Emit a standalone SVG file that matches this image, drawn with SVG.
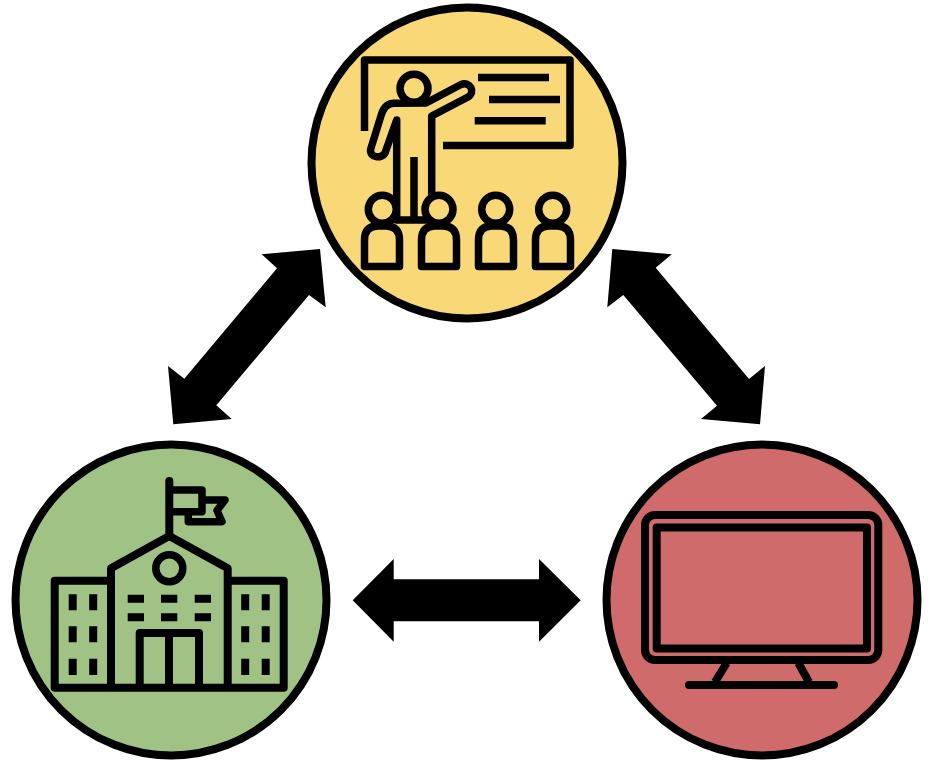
<svg xmlns="http://www.w3.org/2000/svg" width="932" height="760" viewBox="0 0 932 760">
<style>
.c{stroke:#000;stroke-width:8}
.i{fill:none;stroke:#000;stroke-width:7.500;stroke-linejoin:round;stroke-linecap:butt}
.r{stroke-linecap:round}
.m{stroke-width:8}
.y{fill:#f9d878}
.f{fill:#000}
</style>
<rect width="932" height="760" fill="#fff"/>
<g id="connectors" class="f">
<polygon points="320,249 261.700,254.300 277,268.300 184.300,378.700 168,366 173.300,424.300 231.700,419 216.300,405.300 309,295 325.700,307.300"/>
<polygon points="612.300,249 671.700,254.300 655.700,267.700 749,379 765,366 760,424.300 701,419 717,405.700 623.300,295 607.300,307.300"/>
<polygon points="352.700,600.300 393.700,559 393.700,579.300 539,579.300 539,559 580.700,600.300 539,641.700 539,621.300 393.700,621.300 393.700,641.700"/>
</g>
<g id="node-teacher">
<circle class="c" cx="467" cy="163" r="155.500" fill="#f9d878"/>
<path class="i" d="M364.500 131V60H570V145.500H443"/>
<path class="i" d="M478 77.500H549M489 99.500H560M474.700 120.700H545.700"/>
<circle class="i" cx="414" cy="88.300" r="14"/>
<path class="i" d="M426 103L461 84.500C470 81 476 92 468 97L431.700 116V220H396.700V120L385 153C382 159 369 158 370.700 149L381.700 113.500C384 107 388 103.300 394 103.300Z"/>
<path class="i" d="M414 157V220"/>
<circle class="i y" cx="382.300" cy="209.300" r="14"/>
<circle class="i y" cx="439" cy="209.300" r="14"/>
<circle class="i y" cx="495.700" cy="209.300" r="14"/>
<circle class="i y" cx="552.700" cy="209.300" r="14"/>
<path class="i y" d="M364.500 266.500V240Q364.500 226 378 226H386Q399.500 226 399.500 240V266.500Z"/>
<path class="i y" d="M421.500 266.500V240Q421.500 226 435 226H443Q456.500 226 456.500 240V266.500Z"/>
<path class="i y" d="M478.500 266.500V240Q478.500 226 492 226H500Q513.500 226 513.500 240V266.500Z"/>
<path class="i y" d="M535.500 266.500V240Q535.500 226 549 226H557Q570.500 226 570.500 240V266.500Z"/>
</g>
<g id="node-school">
<circle class="c" cx="171" cy="600" r="155.500" fill="#a0c285"/>
<path class="i r m" d="M169.300 481V534"/>
<path class="i" d="M170 490H202V511.700H170M205 500H225L217 510.500L222 521.700H188.300V514"/>
<path class="i m" d="M111 687V568.300L169.300 536L227.700 568.300V687"/>
<circle class="i" cx="169.300" cy="568.300" r="13.500"/>
<path class="i m" d="M111 580.700H54.700V687.700H283.700V580.700H227.700"/>
<path class="i m" d="M139.700 687V633H199V687M169 633V687"/>
<path class="i m" d="M127.700 598.700H144M161 598.700H177.300M194.700 598.700H211M127.700 617.300H144M161 617.300H177.300M194.700 617.300H211"/>
<path class="i m" d="M72.700 594.300V610.300M93.200 594.300V610.300M72.700 626.300V642.300M93.200 626.300V642.300M72.700 658.700V675M93.200 658.700V675M245.200 594.300V610.300M265.700 594.300V610.300M245.200 626.300V642.300M265.700 626.300V642.300M245.200 658.700V675M265.700 658.700V675"/>
</g>
<g id="node-monitor">
<circle class="c" cx="762" cy="600" r="155.500" fill="#cf6b6a"/>
<rect class="i m" x="645" y="515" width="233.300" height="145" rx="10"/>
<rect class="i m" x="656.700" y="527.500" width="210.300" height="121"/>
<path class="i m" d="M726.700 663L715 682M798.300 663L809 682"/>
<path class="i r m" d="M689 685H834"/>
</g>
</svg>
